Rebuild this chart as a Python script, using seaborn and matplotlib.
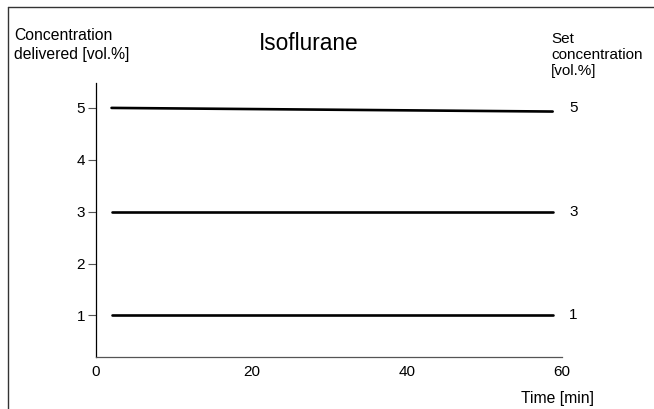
import matplotlib
matplotlib.use("Agg")
import matplotlib.pyplot as plt
from matplotlib.lines import Line2D
import pandas as pd
import seaborn as sns

# values
time_min = [2, 58.8]
set_levels = [5, 3, 1]
delivered = {5: [5.0, 4.93], 3: [3.0, 3.0], 1: [1.0, 1.0]}
x_ticks = [0, 20, 40, 60]
y_ticks = [1, 2, 3, 4, 5]

rows = []
for lvl in set_levels:
    for t, v in zip(time_min, delivered[lvl]):
        rows.append({"time": t, "conc": v, "set": lvl})
df = pd.DataFrame(rows)

sns.set_style("white")
plt.rcParams["font.family"] = ["Liberation Sans", "DejaVu Sans"]
plt.rcParams["text.color"] = "black"

fig = plt.figure(figsize=(6.54, 4.09), dpi=100)
ax = fig.add_axes([96 / 654, 1 - 357 / 409, 466 / 654, 274 / 409])

sns.lineplot(data=df, x="time", y="conc", hue="set", palette=["black"] * 3,
             linewidth=1.9, legend=False, ax=ax)

ax.set_xlim(0, 60)
ax.set_ylim(0.2, 5.48)
ax.set_xticks(x_ticks)
ax.set_yticks(y_ticks)
ax.tick_params(axis="x", bottom=False, length=0, labelsize=11, pad=6, labelcolor="black")
ax.tick_params(axis="y", left=True, length=6, width=0.8, color="#555555",
               labelsize=11, pad=2, labelcolor="black")
sns.despine(ax=ax)
ax.spines["left"].set_color("black")
ax.spines["bottom"].set_color("#555555")
for s in ax.spines.values():
    s.set_linewidth(0.9)

ax.set_xlabel("Time [min]", fontsize=11.3, color="black")
ax.xaxis.set_label_coords(0.99, -0.125)
ax.xaxis.label.set_ha("center")
ax.set_ylabel("")

# set concentration labels at the right end of each line
for lvl in set_levels:
    ax.text(60.9, lvl, str(lvl), fontsize=11, va="center", ha="left", clip_on=False)

fig.text(14 / 654, 1 - 59 / 409, "Concentration\ndelivered [vol.%]", fontsize=11.3,
         va="baseline", ha="left", linespacing=1.3)
fig.text(309 / 654, 1 - 50 / 409, "Isoflurane", fontsize=16.3, va="baseline", ha="center")
fig.text(551 / 654, 1 - 75 / 409, "Set\nconcentration\n[vol.%]", fontsize=11,
         va="baseline", ha="left", linespacing=1.2)

# frame lines at top and left of the picture
fig.add_artist(Line2D([8 / 654, 1], [1 - 7 / 409, 1 - 7 / 409], color="#333333", lw=1.0))
fig.add_artist(Line2D([8 / 654, 8 / 654], [0, 1 - 7 / 409], color="#333333", lw=1.0))

fig.savefig("out.png", dpi=100)
